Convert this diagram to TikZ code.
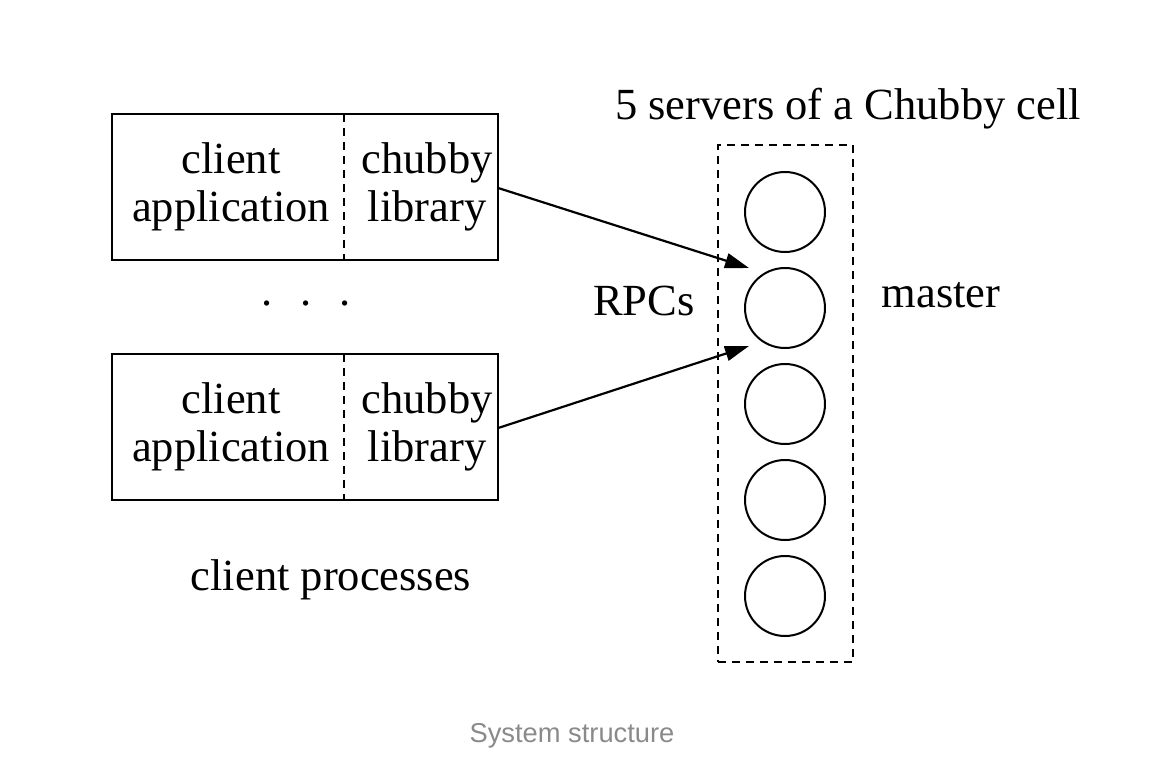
\documentclass[tikz,border=0pt]{standalone}
\usepackage{fontspec}
\setmainfont{Liberation Serif}
\newfontfamily\capfont{Liberation Sans}
\usetikzlibrary{arrows.meta}
\definecolor{capgray}{RGB}{138,138,138}
\tikzset{
  lw/.style={line width=2pt},
  part/.style={inner sep=0pt, minimum height=146pt, align=center, font=\fontsize{44.5}{48}\selectfont},
  srv/.style={circle, draw, lw, minimum size=80pt, inner sep=0pt},
  lbl/.style={inner sep=0pt, font=\fontsize{44.5}{48}\selectfont},
  rpc/.style={line width=2.2pt, -{Triangle[length=24pt,width=15pt]}},
  dash8/.style={lw, dash pattern=on 8pt off 6pt},
}
\begin{document}
\begin{tikzpicture}[x=1pt,y=-1pt]
\useasboundingbox (0,0) rectangle (1168,774);
% client boxes
\node[part, minimum width=232pt] (app1) at (228,187) {\hspace*{6pt}client\\\hspace*{6pt}application};
\node[part, minimum width=154pt] (lib1) at (421,187) {\hspace*{12pt}chubby\\\hspace*{12pt}library};
\node[part, minimum width=232pt] (app2) at (228,427) {\hspace*{6pt}client\\\hspace*{6pt}application};
\node[part, minimum width=154pt] (lib2) at (421,427) {\hspace*{12pt}chubby\\\hspace*{12pt}library};
\draw[lw] (app1.north west) rectangle (lib1.south east);
\draw[lw] (app2.north west) rectangle (lib2.south east);
\draw[dash8] (app1.north east) -- (app1.south east);
\draw[dash8] (app2.north east) -- (app2.south east);
\node[lbl] (dots) at (306,303) {.\hspace{28pt}.\hspace{28pt}.};
\node[lbl] (cp) at (331,580) {client processes};
% cell
\node[draw, dash8, minimum width=135pt, minimum height=517pt, inner sep=0pt] (cell) at (785.5,403.5) {};
\node[lbl] (title) at (848,109) {5 servers of a Chubby cell};
\node[srv] (s1) at (785,212) {};
\node[srv] (s2) at (785,308) {};
\node[srv] (s3) at (785,404) {};
\node[srv] (s4) at (785,500) {};
\node[srv] (s5) at (785,596) {};
\node[lbl] (rpcs) at (644,301) {RPCs};
\node[lbl] (master) at (941,295) {master};
\coordinate (t1) at (749,268);
\coordinate (t2) at (749,346);
\draw[rpc] (lib1.east) ++(0,1) -- (t1);
\draw[rpc] (lib2.east) ++(0,1) -- (t2);
\node[inner sep=0pt, text=capgray, font=\capfont\fontsize{27.3}{30}\selectfont] (cap) at (572,736) {System structure};
\end{tikzpicture}
\end{document}
